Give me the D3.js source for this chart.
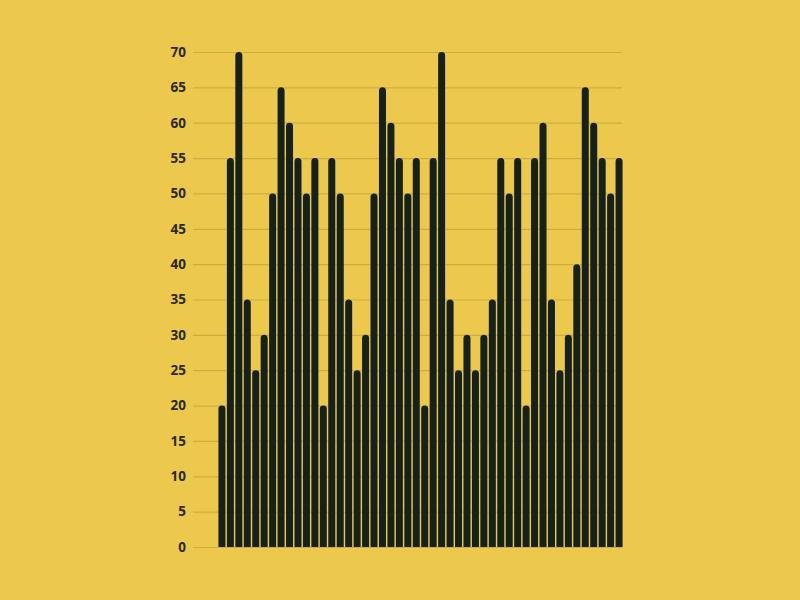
<!DOCTYPE html>
<html>
<head>
<meta charset="utf-8">
<script src="https://cdn.jsdelivr.net/npm/d3@7"></script>
<style>
  html, body { margin: 0; padding: 0; background: #ecc94d; }
</style>
</head>
<body>
<div id="viz"></div>
<script>
const width = 800;
const height = 600;
const margin = {top: 52, right: 177, bottom: 53, left: 218};
const bgColor = '#ecc94d';
const barColor = '#17211c';
const gridColor = '#cdad3f';

// Bar values, left to right
const values = [20, 55, 70, 35, 25, 30, 50, 65, 60, 55, 50, 55,
                20, 55, 50, 35, 25, 30, 50, 65, 60, 55, 50, 55,
                20, 55, 70, 35, 25, 30, 25, 30, 35, 55, 50, 55,
                20, 55, 60, 35, 25, 30, 40, 65, 60, 55, 50, 55];
const categories = values.map((d, i) => i);
const yTicks = d3.range(0, 75, 5);

const svg = d3.select('#viz')
  .append('svg')
    .attr('width', width)
    .attr('height', height)
    .style('background', bgColor);

const xScale = d3.scaleBand()
  .domain(categories)
  .range([margin.left, width - margin.right])
  .paddingInner(0.17)
  .paddingOuter(0.05);

const yScale = d3.scaleLinear()
  .domain([0, 70])
  .range([height - margin.bottom, margin.top]);

// Gridlines + labels
const gridLeft = 193;
const gridRight = 622;
const yAxis = d3.axisLeft(yScale)
  .tickValues(yTicks)
  .tickSize(0)
  .tickPadding(7);

const yAxisGroup = svg.append('g')
    .attr('transform', `translate(${gridLeft}, 0)`)
    .call(yAxis);
yAxisGroup.select('.domain').remove();
yAxisGroup.selectAll('.tick line')
    .attr('stroke', gridColor)
    .attr('stroke-width', 1.2)
    .attr('x1', 0)
    .attr('x2', gridRight - gridLeft);
yAxisGroup.selectAll('.tick text')
    .attr('fill', '#2b2815')
    .style('font-family', '"Open Sans", sans-serif')
    .style('font-size', '13.5px')
    .style('font-weight', 700);

// Bars with rounded tops
const barPath = (d, i) => {
  const x0 = xScale(i);
  const w = xScale.bandwidth();
  const r = w / 2;
  const yTop = yScale(d);
  const yBase = yScale(0);
  return `M${x0},${yBase} V${yTop + r} A${r},${r} 0 0 1 ${x0 + w},${yTop + r} V${yBase} Z`;
};

svg.append('g')
    .attr('class', 'bars-group')
  .selectAll('path')
  .data(values)
  .join('path')
    .attr('d', barPath)
    .attr('fill', barColor);
</script>
</body>
</html>
